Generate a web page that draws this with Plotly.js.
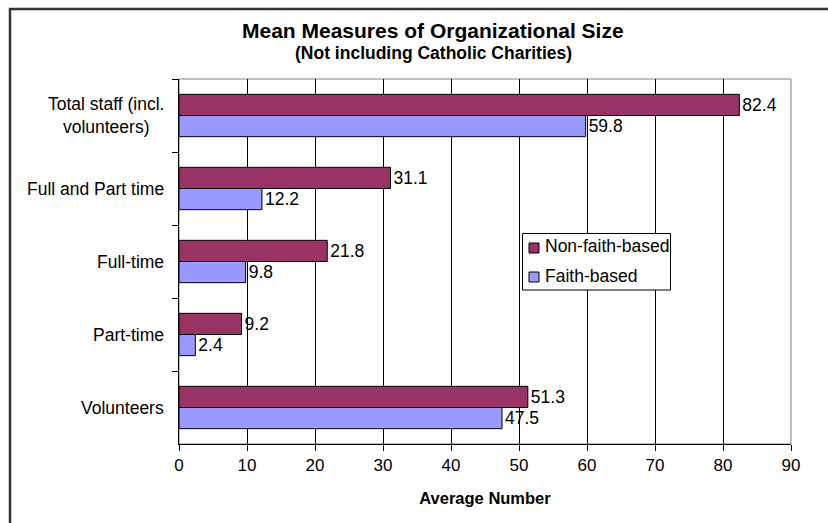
<!DOCTYPE html>
<html>
<head>
<meta charset="utf-8">
<script src="https://cdn.plot.ly/plotly-3.0.1.min.js"></script>
<style>html,body{margin:0;padding:0;background:#fff;}#chart{width:828px;height:523px;}</style>
</head>
<body>
<div id="chart"></div>
<script>
var categories = ["Total staff (incl.<br>volunteers)", "Full and Part time", "Full-time", "Part-time", "Volunteers"];
var nonFaithBased = [82.4, 31.1, 21.8, 9.2, 51.3];
var faithBased = [59.8, 12.2, 9.8, 2.4, 47.5];
var seriesNames = ["Non-faith-based", "Faith-based"];
var seriesColors = ["#993366", "#9999FF"];
var xTicks = [0, 10, 20, 30, 40, 50, 60, 70, 80, 90];

var FONT = "Liberation Sans, Arial, sans-serif";
var L = 179, R = 791, T = 79, B = 444, W = 828, H = 523;
function px(x){ return (x - L) / (R - L); }
function py(y){ return (B - y) / (B - T); }

var seriesValues = [nonFaithBased, faithBased];
var traces = seriesValues.map(function(vals, i){
  return {type: "bar", orientation: "h", name: seriesNames[i], y: categories, x: vals,
   marker: {color: seriesColors[i], line: {color: "#000", width: 1}},
   text: vals.map(function(v){return v.toFixed(1);}), textposition: "outside",
   textfont: {family: FONT, size: 17.5, color: "#000"}, cliponaxis: false, hoverinfo: "x",
   showlegend: false};
});

var annotations = categories.map(function(c){
  return {xref: "paper", yref: "y", x: px(166), y: c, xanchor: "right", yanchor: "middle",
          text: c, showarrow: false, align: "center", font: {family: FONT, size: 17.5, color: "#000"}};
});
annotations.push({xref: "paper", yref: "paper", x: px(433), y: py(30), xanchor: "center", yanchor: "middle",
  text: "<b>Mean Measures of Organizational Size</b>", showarrow: false, font: {family: FONT, size: 21, color: "#000"}});
annotations.push({xref: "paper", yref: "paper", x: px(433), y: py(53), xanchor: "center", yanchor: "middle",
  text: "<b>(Not including Catholic Charities)</b>", showarrow: false, font: {family: FONT, size: 17.5, color: "#000"}});

var shapes = [
  {type: "rect", xref: "paper", yref: "paper", x0: 0, x1: 1, y0: 0, y1: 1,
   line: {color: "#808080", width: 1}, layer: "below"},
  {type: "rect", xref: "paper", yref: "paper", x0: px(10), x1: px(840), y0: py(9), y1: py(540),
   line: {color: "#333", width: 2.5}},
  {type: "rect", xref: "paper", yref: "paper", x0: px(522.5), x1: px(670.5), y0: py(233.5), y1: py(290),
   line: {color: "#000", width: 1}, fillcolor: "#fff"}
];
var legendRows = [248, 277];
seriesNames.forEach(function(n, i){
  var cy = legendRows[i];
  shapes.push({type: "rect", xref: "paper", yref: "paper", x0: px(529), x1: px(539), y0: py(cy - 5), y1: py(cy + 5),
    line: {color: "#000", width: 1}, fillcolor: seriesColors[i]});
  annotations.push({xref: "paper", yref: "paper", x: px(543), y: py(cy - 1.5), xanchor: "left", yanchor: "middle",
    text: n, showarrow: false, font: {family: FONT, size: 17.5, color: "#000"}});
});

var layout = {
  width: W, height: H,
  margin: {l: L, r: W - R, t: T, b: H - B, pad: 0},
  paper_bgcolor: "#fff", plot_bgcolor: "#fff",
  showlegend: false,
  barmode: "group", bargap: 0.42, bargroupgap: 0,
  font: {family: FONT, size: 17, color: "#000"},
  xaxis: {range: [0, 90], tickvals: xTicks, ticktext: xTicks.map(String),
    showgrid: true, gridcolor: "#000", gridwidth: 1, zeroline: false,
    showline: true, linecolor: "#000", linewidth: 1,
    ticks: "outside", ticklen: 6, tickcolor: "#000",
    tickfont: {family: FONT, size: 17, color: "#000"},
    title: {text: "<b>Average Number</b>", font: {family: FONT, size: 16.5, color: "#000"}, standoff: 18}},
  yaxis: {type: "category", autorange: "reversed", showgrid: false, zeroline: false,
    showline: true, linecolor: "#000", linewidth: 1, showticklabels: false,
    ticks: "outside", tickson: "boundaries", ticklen: 6, tickcolor: "#000"},
  annotations: annotations,
  shapes: shapes
};

Plotly.newPlot("chart", traces, layout, {staticPlot: true});
</script>
</body>
</html>
